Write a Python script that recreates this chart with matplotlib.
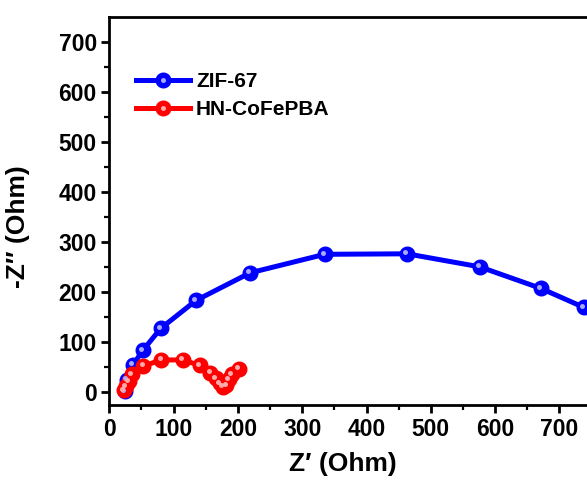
import matplotlib.pyplot as plt
import matplotlib.transforms as mtransforms
from matplotlib.legend_handler import HandlerTuple
import numpy as np

plt.rcParams['font.family'] = ['Liberation Sans', 'DejaVu Sans']
plt.rcParams['font.weight'] = 'bold'

# ZIF-67 Nyquist data
zif_x = [24, 27, 37, 52, 80, 135, 219, 335, 463, 576, 671, 738]
zif_y = [2, 25, 55, 84, 128, 184, 239, 276, 277, 251, 208, 170]

# HN-CoFePBA Nyquist data
pba_x = [23, 26, 30, 35, 53, 81, 114, 141, 157, 166, 172, 177, 182, 186, 191, 201]
pba_y = [4, 12, 22, 36, 53, 65, 65, 54, 39, 28, 18, 11, 14, 26, 36, 47]

x_ticks = [0, 100, 200, 300, 400, 500, 600, 700]
y_ticks = [0, 100, 200, 300, 400, 500, 600, 700]

fig = plt.figure(figsize=(5.87, 4.84), dpi=100)
ax = fig.add_axes([109.3 / 587, 79 / 484, 514.4 / 587, 388 / 484])

hl = mtransforms.offset_copy(ax.transData, fig=fig, x=-1.2, y=1.2, units='points')

series = [
    (zif_x, zif_y, '#0000ff', '#a8a8ff', 'ZIF-67'),
    (pba_x, pba_y, '#ff0000', '#ffaaaa', 'HN-CoFePBA'),
]
handles = []
for xs, ys, col, light, name in series:
    ln, = ax.plot(xs, ys, '-o', color=col, lw=3.6, ms=10.5, mec=col, mfc=col, zorder=3)
    ax.plot(xs, ys, 'o', color=light, ms=3.6, mec='none', transform=hl, zorder=4)
    dot, = ax.plot([], [], 'o', color=light, ms=3.6, mec='none')
    handles.append(((ln, dot), name))

ax.set_xlim(0, 800)
ax.set_ylim(-25, 750)
ax.set_xticks(x_ticks)
ax.set_yticks(y_ticks)
ax.set_xticks(np.arange(50, 800, 100), minor=True)
ax.set_yticks(np.arange(50, 750, 100), minor=True)

for s in ax.spines.values():
    s.set_linewidth(2)
ax.tick_params(which='major', direction='out', length=6, width=2, labelsize=16.5, pad=3)
ax.tick_params(which='minor', direction='out', length=3.5, width=1.6)
ax.tick_params(top=False, right=False, which='both')

ax.set_xlabel('Z\u2032 (Ohm)', fontsize=19, fontweight='bold')
ax.set_ylabel('-Z\u2033 (Ohm)', fontsize=19, fontweight='bold')
ax.xaxis.set_label_coords(0.454, -0.12)
ax.yaxis.set_label_coords(-0.155, 0.46)

ax.legend([h for h, _ in handles], [n for _, n in handles],
          handler_map={tuple: HandlerTuple(ndivide=1)},
          loc='upper left', bbox_to_anchor=(0.035, 0.88), frameon=False,
          fontsize=15, handlelength=2.6, handletextpad=0.3, labelspacing=0.45,
          borderaxespad=0)

fig.savefig('out.png', dpi=100)
